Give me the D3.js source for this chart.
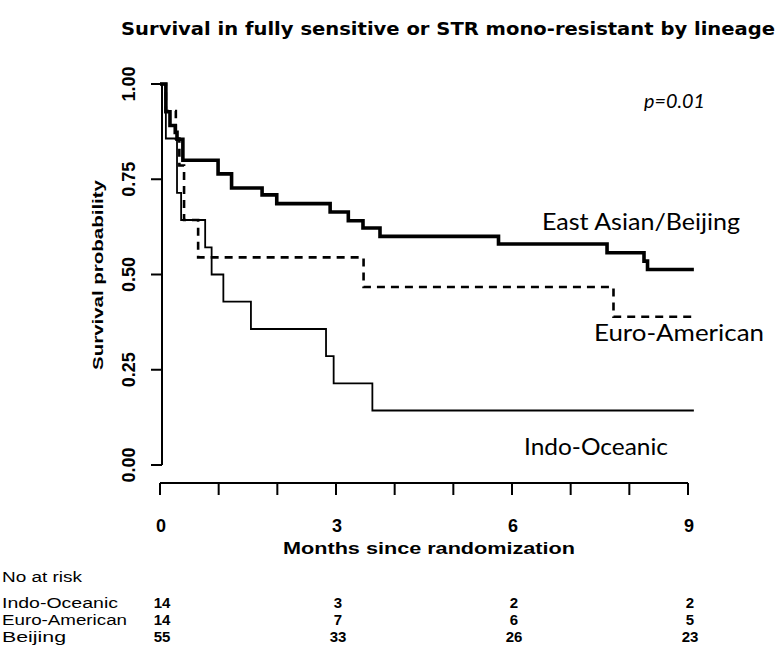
<!DOCTYPE html>
<html>
<head>
<meta charset="utf-8">
<script src="https://cdn.jsdelivr.net/npm/d3@7"></script>
<style>
  html, body { margin: 0; padding: 0; background: #fff; }
  svg { display: block; }
</style>
</head>
<body>
<svg id="chart" width="777" height="645"></svg>
<script>
// Kaplan-Meier step estimates (months, survival) per lineage
const indoTime = [0, 0.10, 0.29, 0.36, 0.77, 0.88, 1.08, 1.55, 2.83, 2.96, 3.62, 9.1];
const indoSurv = [1.0, 0.857, 0.714, 0.643, 0.571, 0.5, 0.429, 0.357, 0.286, 0.214, 0.143, 0.143];

const euroTime = [0, 0.10, 0.27, 0.33, 0.41, 0.65, 3.47, 7.73, 9.1];
const euroSurv = [1.0, 0.929, 0.857, 0.786, 0.643, 0.545, 0.467, 0.389, 0.389];

const bjTime = [0, 0.10, 0.17, 0.26, 0.29, 0.39, 0.99, 1.22, 1.74, 1.99, 2.90, 3.21, 3.46, 3.75, 5.77, 7.62, 8.25, 8.31, 9.1];
const bjSurv = [1.0, 0.927, 0.891, 0.873, 0.855, 0.80, 0.764, 0.727, 0.709, 0.686, 0.664, 0.641, 0.622, 0.60, 0.58, 0.557, 0.535, 0.513, 0.513];

// Axis ticks
const xTicks = [0, 1, 2, 3, 4, 5, 6, 7, 8, 9];
const xTickLabels = [0, 3, 6, 9];
const yTicks = [0, 0.25, 0.5, 0.75, 1.0];

// Numbers at risk
const riskTimes = [0, 3, 6, 9];
const riskRows = ["Indo-Oceanic", "Euro-American", "Beijing"];
const riskIndo = [14, 3, 2, 2];
const riskEuro = [14, 7, 6, 5];
const riskBeijing = [55, 33, 26, 23];

const svg = d3.select("#chart");
const x = d3.scaleLinear().domain([0, 9]).range([160, 688]);
const y = d3.scaleLinear().domain([0, 1]).range([465, 84]);

const sansBold = "'Liberation Sans', Arial, sans-serif";

// Title
svg.append("text")
  .attr("x", 121).attr("y", 35)
  .attr("textLength", 654).attr("lengthAdjust", "spacingAndGlyphs")
  .style("font-family", "'DejaVu Sans', sans-serif")
  .style("font-weight", "bold").style("font-size", "18.5px")
  .text("Survival in fully sensitive or STR mono-resistant by lineage");

// Y axis
const yAxis = svg.append("g");
yAxis.append("line")
  .attr("x1", 162).attr("x2", 162)
  .attr("y1", y(1)).attr("y2", y(0))
  .attr("stroke", "#000").attr("stroke-width", 2);
yAxis.selectAll("line.tick").data(yTicks).join("line")
  .attr("class", "tick")
  .attr("x1", 151).attr("x2", 162)
  .attr("y1", d => y(d)).attr("y2", d => y(d))
  .attr("stroke", "#000").attr("stroke-width", 2);
yAxis.selectAll("text").data(yTicks).join("text")
  .attr("transform", d => `translate(135,${y(d)}) rotate(-90)`)
  .attr("text-anchor", "middle")
  .style("font-family", sansBold).style("font-weight", "bold").style("font-size", "18px")
  .text(d => d3.format(".2f")(d));

svg.append("text")
  .attr("transform", "translate(103,275) rotate(-90)")
  .attr("text-anchor", "middle")
  .attr("textLength", 190).attr("lengthAdjust", "spacingAndGlyphs")
  .style("font-family", sansBold).style("font-weight", "bold").style("font-size", "14px")
  .text("Survival probability");

// X axis
const xAxis = svg.append("g");
xAxis.append("line")
  .attr("x1", x(0)).attr("x2", x(9))
  .attr("y1", 483).attr("y2", 483)
  .attr("stroke", "#000").attr("stroke-width", 2);
xAxis.selectAll("line.tick").data(xTicks).join("line")
  .attr("class", "tick")
  .attr("x1", d => x(d)).attr("x2", d => x(d))
  .attr("y1", 483).attr("y2", 495)
  .attr("stroke", "#000").attr("stroke-width", 2);
xAxis.selectAll("text").data(xTickLabels).join("text")
  .attr("x", d => x(d) + 1).attr("y", 532)
  .attr("text-anchor", "middle")
  .style("font-family", sansBold).style("font-weight", "bold").style("font-size", "18px")
  .text(d => d);

svg.append("text")
  .attr("x", 429).attr("y", 554)
  .attr("text-anchor", "middle")
  .attr("textLength", 292).attr("lengthAdjust", "spacingAndGlyphs")
  .style("font-family", sansBold).style("font-weight", "bold").style("font-size", "16px")
  .text("Months since randomization");

// Survival curves
const step = d3.line()
  .x(d => x(d[0])).y(d => y(d[1]))
  .curve(d3.curveStepAfter);

const curves = [
  { t: indoTime, s: indoSurv, w: 1.8, dash: null },
  { t: euroTime, s: euroSurv, w: 2.6, dash: "8,6" },
  { t: bjTime,   s: bjSurv,   w: 3.6, dash: null }
];
svg.append("g").selectAll("path").data(curves).join("path")
  .attr("d", c => step(d3.zip(c.t, c.s)))
  .attr("fill", "none")
  .attr("stroke", "#000")
  .attr("stroke-width", c => c.w)
  .attr("stroke-dasharray", c => c.dash);

// Curve annotations
const annoFont = "Lato, 'Open Sans', sans-serif";
const annotations = [
  { label: "East Asian/Beijing", x: 542, y: 230, w: 198 },
  { label: "Euro-American",      x: 594, y: 341, w: 170 },
  { label: "Indo-Oceanic",       x: 524, y: 455, w: 144 }
];
svg.append("g").selectAll("text").data(annotations).join("text")
  .attr("x", d => d.x).attr("y", d => d.y)
  .attr("textLength", d => d.w).attr("lengthAdjust", "spacingAndGlyphs")
  .style("font-family", annoFont).style("font-size", "24px")
  .text(d => d.label);
svg.append("text").attr("x", 644).attr("y", 108)
  .attr("textLength", 61).attr("lengthAdjust", "spacingAndGlyphs")
  .style("font-family", annoFont).style("font-style", "italic").style("font-size", "19px")
  .text("p=0.01");

// Numbers at risk table
const tableFont = "'Liberation Sans Narrow', 'Liberation Sans', Arial, sans-serif";
svg.append("text").attr("x", 2).attr("y", 582)
  .attr("textLength", 80).attr("lengthAdjust", "spacingAndGlyphs")
  .style("font-family", tableFont).style("font-size", "14px")
  .text("No  at risk");

const rowY = [608, 625, 642];
const rowW = [116, 125, 64];
const riskData = [riskIndo, riskEuro, riskBeijing];
riskRows.forEach((name, i) => {
  svg.append("text").attr("x", 2).attr("y", rowY[i])
    .attr("textLength", rowW[i]).attr("lengthAdjust", "spacingAndGlyphs")
    .style("font-family", tableFont).style("font-size", "14px")
    .text(name);
  svg.append("g").selectAll("text").data(riskData[i]).join("text")
    .attr("x", (d, j) => x(riskTimes[j]) + 2)
    .attr("y", rowY[i])
    .attr("text-anchor", "middle")
    .style("font-family", tableFont).style("font-weight", "bold").style("font-size", "15px")
    .text(d => d);
});
</script>
</body>
</html>
